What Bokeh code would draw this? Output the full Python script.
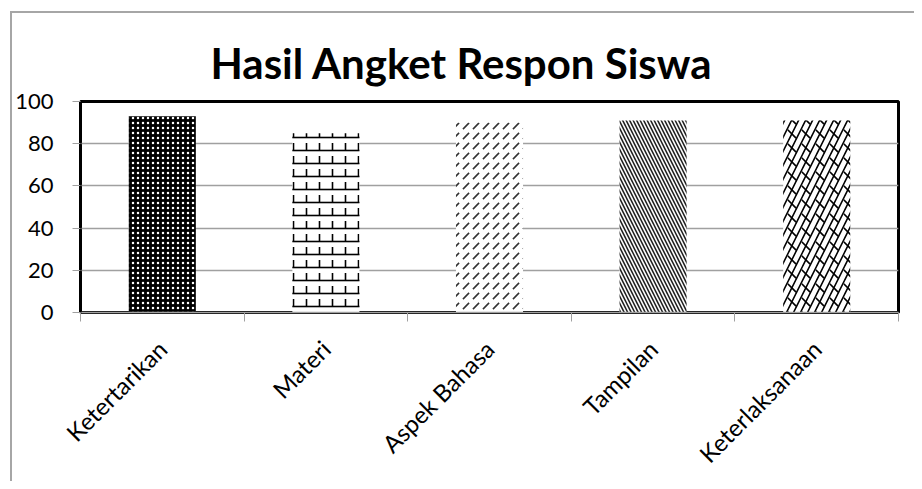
from bokeh.plotting import figure
from bokeh.models import ColumnDataSource, FixedTicker, Range1d
from bokeh.embed import file_html
from bokeh.resources import INLINE

categories = ["Ketertarikan", "Materi", "Aspek Bahasa", "Tampilan", "Keterlaksanaan"]
values = [93, 85, 90, 91, 91]
y_ticks = [0, 20, 40, 60, 80, 100]

# per-bar styles (fill / hatch)
bar_fill = ["black", "white", "white", "white", "white"]
hatch_a = ["dot", "horizontal_line", "right_diagonal_dash", "left_diagonal_line", "right_diagonal_line"]
hatch_a_color = ["white", "black", "#333333", "#222222", "black"]
hatch_a_scale = [5, 13, 10, 7, 14]
hatch_b = [" ", "vertical_dash", " ", " ", "left_diagonal_dash"]
hatch_b_scale = [12, 13, 12, 12, 14]

x_pos = [i + 0.5 for i in range(len(categories))]
source = ColumnDataSource(dict(
    x=x_pos, top=values, fill=bar_fill,
    pat1=hatch_a, col1=hatch_a_color, sc1=hatch_a_scale,
    pat2=hatch_b, sc2=hatch_b_scale,
))

p = figure(width=914, height=481, output_backend="svg", toolbar_location=None,
           x_range=Range1d(0, 5), y_range=Range1d(0, 100))
p.min_border_left = 80
p.min_border_right = 16
p.min_border_top = 101
p.min_border_bottom = 168
p.border_fill_color = None
p.background_fill_color = "white"
p.styles = {
    "background": "linear-gradient(#a6a6a6, #a6a6a6) 10px 11px / 2px 100% no-repeat, "
                  "linear-gradient(#a6a6a6, #a6a6a6) 10px 11px / 100% 2px no-repeat, white"
}

p.title.text = "Hasil Angket Respon Siswa"
p.title.align = "left"
p.title.offset = 130
p.title.text_font = "Lato"
p.title.text_font_size = "42px"
p.title.text_font_style = "bold"
p.title.text_color = "black"
p.title.standoff = 28

p.vbar(x="x", top="top", bottom=0, width=0.41, source=source,
       fill_color="fill", line_color=None,
       hatch_pattern="pat1", hatch_color="col1", hatch_scale="sc1", hatch_weight=1.6)
p.vbar(x="x", top="top", bottom=0, width=0.41, source=source,
       fill_alpha=0, line_color=None,
       hatch_pattern="pat2", hatch_color="black", hatch_scale="sc2", hatch_weight=1.6)

p.outline_line_color = "black"
p.outline_line_width = 3

p.xgrid.visible = False
p.ygrid.ticker = FixedTicker(ticks=y_ticks)
p.ygrid.grid_line_color = "#a0a0a0"
p.ygrid.grid_line_width = 1.5

p.yaxis.ticker = FixedTicker(ticks=y_ticks)
p.yaxis.axis_line_color = "black"
p.yaxis.axis_line_width = 2
p.yaxis.major_tick_line_color = "#a0a0a0"
p.yaxis.major_tick_out = 8
p.yaxis.major_tick_in = 0
p.yaxis.minor_tick_line_color = None
p.yaxis.major_label_text_font = "Lato"
p.yaxis.major_label_text_font_size = "22px"
p.yaxis.major_label_text_color = "black"
p.yaxis.major_label_standoff = 19

p.xaxis.ticker = FixedTicker(ticks=x_pos, minor_ticks=list(range(len(categories) + 1)))
p.xaxis.major_label_overrides = {x: c for x, c in zip(x_pos, categories)}
p.xaxis.major_label_orientation = 0.785398
p.xaxis.axis_line_color = "#a0a0a0"
p.xaxis.axis_line_width = 1.5
p.xaxis.major_tick_line_color = None
p.xaxis.minor_tick_line_color = "#a0a0a0"
p.xaxis.minor_tick_out = 9
p.xaxis.minor_tick_in = 0
p.xaxis.major_label_text_font = "Lato"
p.xaxis.major_label_text_font_size = "24px"
p.xaxis.major_label_text_color = "black"
p.xaxis.major_label_standoff = 23

open("out.html", "w").write(file_html(p, INLINE))
